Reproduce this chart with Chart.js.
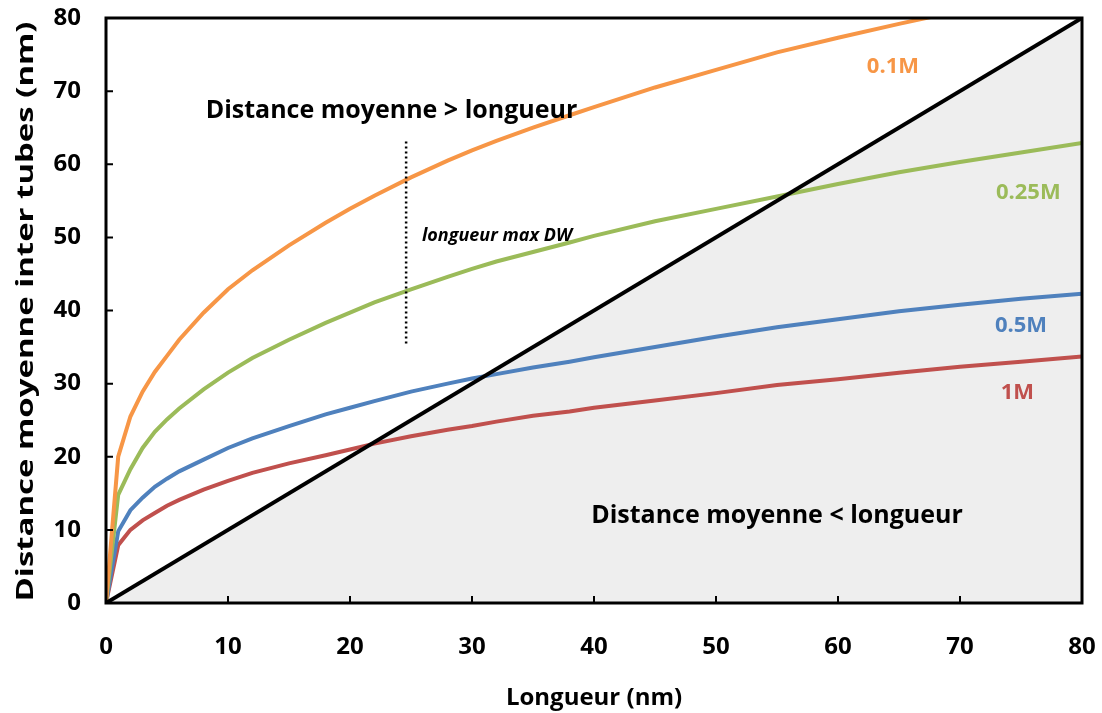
<!DOCTYPE html>
<html>
<head>
<meta charset="utf-8">
<script src="https://cdn.jsdelivr.net/npm/chart.js@4.4.1/dist/chart.umd.min.js"></script>
<style>
  html, body { margin: 0; padding: 0; background: #fff; }
  #wrap { width: 1102px; height: 713px; }
</style>
</head>
<body>
<div id="wrap"><canvas id="chart"></canvas></div>
<script>
// lengths (nm) where the curves were read
const lengths = [0, 1, 2, 3, 4, 5, 6, 8, 10, 12, 15, 18, 20, 22, 25, 28, 30, 32, 35, 38, 40, 45, 50, 55, 60, 65, 70, 75, 80];

// mean distance between tubes (nm) for each concentration
const dist01 = [0, 20.0, 25.5, 28.9, 31.6, 33.8, 36.0, 39.7, 42.9, 45.5, 48.9, 52.0, 53.9, 55.7, 58.2, 60.5, 61.9, 63.2, 65.0, 66.7, 67.8, 70.5, 72.9, 75.3, 77.3, 79.2, 81.0];
const dist025 = [0, 14.8, 18.3, 21.2, 23.4, 25.1, 26.6, 29.2, 31.5, 33.5, 36.0, 38.3, 39.7, 41.1, 42.9, 44.6, 45.7, 46.7, 48.0, 49.3, 50.2, 52.2, 53.9, 55.6, 57.3, 58.9, 60.3, 61.6, 62.9];
const dist05 = [0, 9.8, 12.7, 14.4, 15.9, 17.0, 18.0, 19.6, 21.2, 22.5, 24.2, 25.8, 26.7, 27.6, 28.9, 30.0, 30.7, 31.3, 32.2, 33.0, 33.6, 35.0, 36.4, 37.7, 38.8, 39.9, 40.8, 41.6, 42.3];
const dist1 = [0, 7.9, 10.0, 11.3, 12.3, 13.3, 14.1, 15.5, 16.7, 17.8, 19.1, 20.2, 21.0, 21.8, 22.8, 23.7, 24.2, 24.8, 25.6, 26.2, 26.7, 27.7, 28.7, 29.8, 30.6, 31.5, 32.3, 33.0, 33.7];

// distance = longueur
const diagX = [0, 80];
const diagY = [0, 80];

// max DW length marker
const maxDwX = [24.6, 24.6];
const maxDwY = [35.5, 63.3];

const xTicks = [0, 10, 20, 30, 40, 50, 60, 70, 80];
const yTicks = [0, 10, 20, 30, 40, 50, 60, 70, 80];

const yTitle = "Distance moyenne inter tubes (nm)";
const xTitle = "Longueur (nm)";

const toPoints = (xs, ys) => ys.map((v, i) => ({ x: xs[i], y: v }));

const FONT = "'Open Sans', Lato, sans-serif";

// text annotations, placed in data units
const notes = [
  { text: "Distance moyenne > longueur", x: 23.4, y: 67.3, color: "#000", size: 25, style: "bold", align: "center" },
  { text: "Distance moyenne < longueur", x: 55.0, y: 11.9, color: "#000", size: 25, style: "bold", align: "center" },
  { text: "longueur max DW", x: 25.9, y: 50.2, color: "#000", size: 18, style: "italic bold", align: "left" },
  { text: "0.1M", x: 64.5, y: 73.4, color: "#F79646", size: 22, style: "bold", align: "center" },
  { text: "0.25M", x: 75.6, y: 56.1, color: "#9BBB59", size: 22, style: "bold", align: "center" },
  { text: "0.5M", x: 75.0, y: 37.9, color: "#4F81BD", size: 22, style: "bold", align: "center" },
  { text: "1M", x: 74.7, y: 28.7, color: "#C0504D", size: 22, style: "bold", align: "center" },
];

const decorations = {
  id: "decorations",
  afterDatasetsDraw(chart) {
    const { ctx, chartArea: a, scales: { x, y } } = chart;
    ctx.save();
    ctx.strokeStyle = "#000";
    ctx.lineWidth = 2;
    ctx.beginPath();
    x.ticks.forEach((t) => {
      const px = x.getPixelForValue(t.value);
      ctx.moveTo(px, a.bottom);
      ctx.lineTo(px, a.bottom - 7);
    });
    y.ticks.forEach((t) => {
      const py = y.getPixelForValue(t.value);
      ctx.moveTo(a.left, py);
      ctx.lineTo(a.left + 7, py);
    });
    ctx.stroke();
    ctx.lineWidth = 3;
    ctx.strokeRect(a.left, a.top, a.right - a.left, a.bottom - a.top);

    ctx.textBaseline = "middle";
    notes.forEach((n) => {
      ctx.font = `${n.style} ${n.size}px ${FONT}`;
      ctx.fillStyle = n.color;
      ctx.textAlign = n.align;
      ctx.fillText(n.text, x.getPixelForValue(n.x), y.getPixelForValue(n.y));
    });

    // y title is stretched along its length like in the original
    ctx.font = `bold 24px ${FONT}`;
    ctx.fillStyle = "#000";
    ctx.textAlign = "center";
    const w = ctx.measureText(yTitle).width;
    ctx.translate(26, (a.top + a.bottom) / 2 + 1);
    ctx.rotate(-Math.PI / 2);
    ctx.scale(580 / w, 1);
    ctx.fillText(yTitle, 0, 0);
    ctx.restore();
  },
};

const noPadding = (s) => {
  s.paddingTop = 0;
  s.paddingBottom = 0;
  s.paddingLeft = 0;
  s.paddingRight = 0;
};

const line = (label, xs, ys, color, width) => ({
  label: label,
  data: toPoints(xs, ys),
  borderColor: color,
  borderWidth: width,
  pointRadius: 0,
  showLine: true,
  fill: false,
  tension: 0,
  clip: 0,
});

new Chart(document.getElementById("chart"), {
  type: "scatter",
  data: {
    datasets: [
      {
        ...line("diagonale", diagX, diagY, "#000", 4),
        fill: "origin",
        backgroundColor: "#EEEEEE",
      },
      { ...line("max DW", maxDwX, maxDwY, "#000", 2.5), borderDash: [2, 3] },
      line("0.1M", lengths, dist01, "#F79646", 4),
      line("0.25M", lengths, dist025, "#9BBB59", 4),
      line("0.5M", lengths, dist05, "#4F81BD", 4),
      line("1M", lengths, dist1, "#C0504D", 4),
    ],
  },
  options: {
    responsive: true,
    maintainAspectRatio: false,
    animation: false,
    layout: { autoPadding: false, padding: { top: 18, right: 20, left: 0, bottom: 0 } },
    plugins: {
      legend: { display: false },
      tooltip: { enabled: false },
      filler: { drawTime: "beforeDatasetsDraw" },
    },
    scales: {
      x: {
        type: "linear",
        min: 0,
        max: 80,
        afterBuildTicks: (s) => { s.ticks = xTicks.map((v) => ({ value: v })); },
        afterFit: (s) => { s.height = 110; noPadding(s); },
        grid: { display: false, drawTicks: false },
        border: { display: false },
        ticks: { color: "#000", padding: 30, maxRotation: 0, font: { family: FONT, weight: "bold", size: 24 } },
        title: {
          display: true,
          text: xTitle,
          color: "#000",
          padding: { top: 15, bottom: 0 },
          font: { family: FONT, weight: "bold", size: 24 },
        },
      },
      y: {
        type: "linear",
        min: 0,
        max: 80,
        afterBuildTicks: (s) => { s.ticks = yTicks.map((v) => ({ value: v })); },
        afterFit: (s) => { s.width = 106; noPadding(s); },
        grid: { display: false, drawTicks: false },
        border: { display: false },
        ticks: { color: "#000", padding: 25, font: { family: FONT, weight: "bold", size: 24 } },
        title: { display: false },
      },
    },
  },
  plugins: [decorations],
});
</script>
</body>
</html>
